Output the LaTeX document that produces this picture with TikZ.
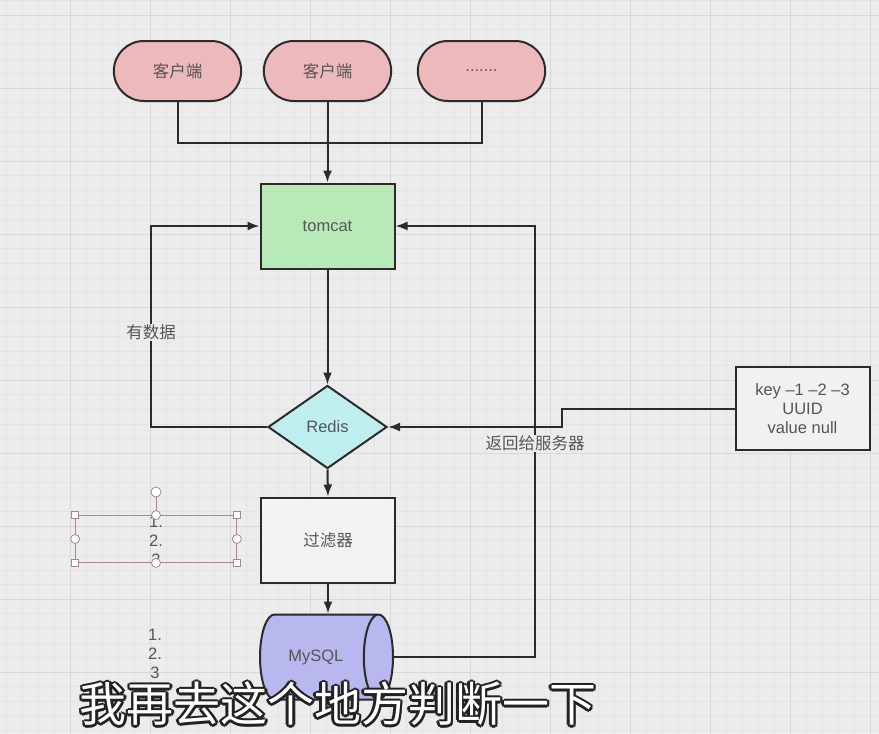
\documentclass[tikz,border=0pt]{standalone}
\usepackage{fontspec}
\setmainfont{Liberation Sans}
\newfontfamily\cjk{Noto Sans CJK SC}
\usetikzlibrary{arrows.meta, shapes.geometric, shapes.misc}
\definecolor{bgColor}{HTML}{ECECEC}
\definecolor{minorColor}{HTML}{E3E3E3}
\definecolor{majorColor}{HTML}{D8D8D8}
\definecolor{lineColor}{HTML}{2B2B2B}
\definecolor{textColor}{HTML}{555555}
\definecolor{clientColor}{HTML}{EDB9BB}
\definecolor{tomcatColor}{HTML}{B8EAB8}
\definecolor{redisColor}{HTML}{BEEFEE}
\definecolor{filterColor}{HTML}{F3F3F3}
\definecolor{mysqlColor}{HTML}{B9B8EE}
\definecolor{keyColor}{HTML}{F1F1F1}
\definecolor{handleColor}{HTML}{A48A8C}
\definecolor{captionEdge}{HTML}{222222}

\begin{document}
\begin{tikzpicture}[
    x=1pt, y=-1pt,
    every node/.style={align=center, text=textColor, font=\fontsize{16.5}{19}\selectfont},
    pill/.style={draw=lineColor, rounded rectangle, line width=2pt, fill=clientColor, minimum width=134pt, minimum height=60pt},
    rect/.style={draw=lineColor, rectangle, line width=2pt, minimum width=134pt, minimum height=85pt},
    decision/.style={draw=lineColor, diamond, line width=2pt, fill=redisColor, inner sep=0pt, minimum width=119pt, minimum height=83pt},
    db/.style={draw=lineColor, cylinder, line width=2pt, fill=mysqlColor, aspect=1.35, minimum width=85pt, minimum height=133pt},
    lbl/.style={fill=bgColor, inner sep=1pt},
    link/.style={draw=lineColor, line width=2pt},
    arr/.style={-{Latex[length=12pt,width=9pt]}},
    selbox/.style={draw=handleColor, line width=0.8pt, minimum width=161pt, minimum height=47pt},
    sqhandle/.style={draw=handleColor, fill=white, line width=0.8pt, inner sep=0pt, minimum size=7pt},
    cchandle/.style={draw=handleColor, fill=white, line width=0.8pt, circle, inner sep=0pt, minimum size=9pt},
    caption/.style={font=\cjk\fontsize{47}{50}\selectfont}
]

% Background and grid
\useasboundingbox (0,0) rectangle (879,734);
\fill[bgColor] (0,0) rectangle (879,734);
\foreach \gx in {6,22,...,878} \draw[minorColor, line width=0.6pt] (\gx,0) -- (\gx,734);
\foreach \gy in {0.4,15,...,734} \draw[minorColor, line width=0.6pt] (0,\gy) -- (879,\gy);
\foreach \gx in {70,150,...,878} \draw[majorColor, line width=0.9pt] (\gx,0) -- (\gx,734);
\foreach \gy in {15,88,...,734} \draw[majorColor, line width=0.9pt] (0,\gy) -- (879,\gy);

% Clients
\node[pill] (client1) at (177.5,71) {\cjk 客户端};
\node[pill] (client2) at (327.5,71) {\cjk 客户端};
\node[pill] (client3) at (481.5,71) {.......};
\coordinate (merge) at (327.5,143);

% Main column
\node[rect, fill=tomcatColor] (tomcat) at (327.5,226) {tomcat};
\node[decision] (redis) at (327.5,427) {Redis};
\node[rect, fill=filterColor] (filter) at (328,540) {\cjk 过滤器};
\node[db, anchor=east] (mysql) at (394,657) {MySQL};

% Note on the right
\node[rect, fill=keyColor, minimum height=83pt] (keyNote) at (802.5,408.5) {key --1 --2 --3\\ UUID\\ value null};

% Lists on the left
\node (listA) at (156,541) {1.\\ 2.\\ 3};
\node[selbox] (selBox) at (156,539) {};
\node (listB) at (155,654) {1.\\ 2.\\ 3};

% Selection handles
\draw[handleColor, line width=0.8pt] (selBox.north) -- (156,492);
\node[cchandle, minimum size=10pt] (hndRot) at (156,492) {};
\foreach \a/\n in {north west/nw, north east/ne, south west/sw, south east/se}
    \node[sqhandle] (hnd\n) at (selBox.\a) {};
\foreach \a/\n in {north/n, south/s, west/w, east/e}
    \node[cchandle] (hnd\n) at (selBox.\a) {};

% Client edges
\draw[link] (client1.south) |- (merge) -| (client3.south);
\draw[link, arr] (client2.south) -- (tomcat.north);

% Main edges
\draw[link, arr] (tomcat.south) -- (redis.north);
\draw[link, arr] (redis.south) -- (filter.north);
\draw[link, arr] (filter.south) -- (filter.south |- mysql.north);

% Loops back
\draw[link, arr] (redis.west) -- ++(-116,0) |- node[lbl, pos=0.236] {\cjk 有数据} (tomcat.west);
\draw[link, arr] (mysql.east) -- ++(141,0) |- node[lbl, pos=0.248] {\cjk 返回给服务器} (tomcat.east);
\draw[link, arr] (keyNote.west) -- ++(-173,0) |- (redis.east);

% Subtitle
\foreach \dx/\dy in {-2.5/0, 2.5/0, 0/-2.5, 0/2.5, -1.8/-1.8, 1.8/1.8, -1.8/1.8, 1.8/-1.8}
    \node[caption, text=captionEdge, xshift=\dx pt, yshift=\dy pt] at (338,704) {我再去这个地方判断一下};
\node[caption, text=white] (subtitle) at (338,704) {我再去这个地方判断一下};
\end{tikzpicture}
\end{document}
